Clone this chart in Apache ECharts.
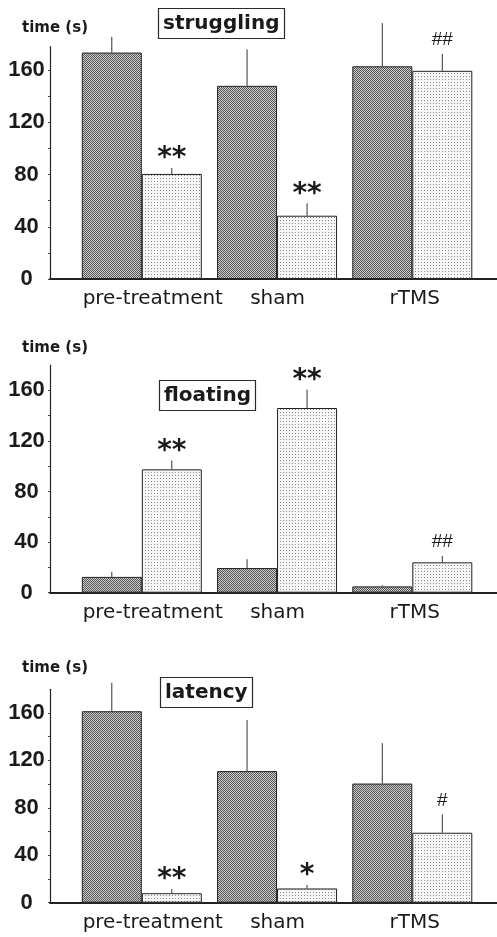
<!DOCTYPE html>
<html>
<head>
<meta charset="utf-8">
<script src="https://cdn.jsdelivr.net/npm/echarts@6/dist/echarts.min.js"></script>
<style>
html,body{margin:0;padding:0;background:#fff;}
#chart{width:497px;height:937px;}
</style>
</head>
<body>
<div id="chart"></div>
<script>
// ---------- data ----------
const categories = ['pre-treatment', 'sham', 'rTMS'];
const yTicks = [0, 40, 80, 120, 160];
const yMinorTicks = [0, 20, 40, 60, 80, 100, 120, 140, 160];
const panelTitles = ['struggling', 'floating', 'latency'];
const yAxisName = 'time (s)';

const strugglingBefore    = [173.5, 148, 163];
const strugglingBeforeErr = [12, 28, 33];
const strugglingAfter     = [80.5, 48.5, 159.5];
const strugglingAfterErr  = [4.5, 9.5, 13];
const strugglingMarks     = ['**', '**', '##'];

const floatingBefore    = [12.5, 19.5, 5];
const floatingBeforeErr = [4, 7, 1];
const floatingAfter     = [97.5, 146, 24];
const floatingAfterErr  = [7, 14.5, 5];
const floatingMarks     = ['**', '**', '##'];

const latencyBefore    = [161.5, 111, 100.5];
const latencyBeforeErr = [24, 43, 34];
const latencyAfter     = [8, 12, 59];
const latencyAfterErr  = [3.5, 3, 15.5];
const latencyMarks     = ['**', '*', '#'];

// ---------- layout / style ----------
const panelData = [
  {before: strugglingBefore, beforeErr: strugglingBeforeErr, after: strugglingAfter, afterErr: strugglingAfterErr, marks: strugglingMarks},
  {before: floatingBefore, beforeErr: floatingBeforeErr, after: floatingAfter, afterErr: floatingAfterErr, marks: floatingMarks},
  {before: latencyBefore, beforeErr: latencyBeforeErr, after: latencyAfter, afterErr: latencyAfterErr, marks: latencyMarks}
];
const panelLayout = [
  {top: 46.7, base: 279, yMax: 178, nameGap: 18.7, titleLeft: 158, titleTop: 8},
  {top: 365, base: 592.7, yMax: 180, nameGap: 17.3, titleLeft: 159, titleTop: 380},
  {top: 689.3, base: 902.7, yMax: 180, nameGap: 21, titleLeft: 160, titleTop: 677}
];
const H = 937;
const groupPx = 135.25;      // px per category step
const barWidthPx = 60;
const barHalf = (barWidthPx / 2) / groupPx;
const xMin = -(141.8 - 50) / groupPx;
const xMax = xMin + 447 / groupPx;
const textColor = '#1a1a1a';

function makePattern(size, bg, dots) {
  const c = document.createElement('canvas');
  c.width = size; c.height = size;
  const g = c.getContext('2d');
  g.fillStyle = bg; g.fillRect(0, 0, size, size);
  dots.forEach(d => { g.fillStyle = d[2]; g.fillRect(d[0], d[1], 1, 1); });
  return c;
}
const darkPattern = makePattern(2, '#cacaca', [[0, 0, '#585858'], [1, 1, '#585858']]);
const lightPattern = makePattern(3, '#f6f6f6', [[1, 1, '#8c8c8c']]);

const labelShift = [22, 1, 5];
const rich = {};
categories.forEach((c, i) => {
  rich['c' + i] = {fontFamily: 'DejaVu Sans', fontSize: 20, color: textColor, padding: [0, 0, 0, labelShift[i]]};
});

const option = {
  animation: false,
  backgroundColor: '#fff',
  title: panelTitles.map((t, p) => ({
    text: t,
    left: panelLayout[p].titleLeft,
    top: panelLayout[p].titleTop,
    padding: [4, 5, 4, 5],
    borderColor: '#2a2a2a',
    borderWidth: 1.2,
    backgroundColor: '#fff',
    textStyle: {fontFamily: 'DejaVu Sans', fontWeight: 'bold', fontSize: 20, lineHeight: 23, color: textColor}
  })),
  grid: panelLayout.map(l => ({
    left: 50, right: 0, top: l.top, bottom: H - l.base, containLabel: false, outerBoundsMode: 'none'
  })),
  xAxis: panelLayout.map((l, p) => ({
    type: 'value', gridIndex: p, min: xMin, max: xMax,
    axisLine: {show: true, onZero: false, lineStyle: {color: '#222', width: 2}},
    axisTick: {show: false},
    splitLine: {show: false},
    axisLabel: {
      customValues: [0, 1, 2],
      margin: 10,
      formatter: v => { const i = Math.round(v); return '{c' + i + '|' + categories[i] + '}'; },
      rich: rich
    }
  })),
  yAxis: panelLayout.map((l, p) => ({
    type: 'value', gridIndex: p, min: 0, max: l.yMax,
    name: yAxisName, nameLocation: 'end', nameGap: l.nameGap,
    nameTextStyle: {fontFamily: 'DejaVu Sans', fontWeight: 'bold', fontSize: 15, color: textColor,
      verticalAlign: 'middle', align: 'center', padding: [0, 0, 0, 10]},
    axisLine: {show: true, onZero: false, lineStyle: {color: '#222', width: 1.2}},
    axisTick: {show: true, customValues: yMinorTicks, length: 2, lineStyle: {color: '#444', width: 1}},
    splitLine: {show: false},
    axisLabel: {
      customValues: yTicks, margin: 23.5, align: 'center', verticalAlign: 'middle',
      padding: [5, 0, 0, 0],
      fontFamily: 'Liberation Sans', fontWeight: 'bold', fontSize: 22, color: textColor
    }
  })),
  series: []
};

function errorSeries(p, xs, means, errs) {
  return {
    type: 'custom', xAxisIndex: p, yAxisIndex: p, z: 5, clip: false,
    data: xs.map((x, i) => [x, means[i], errs[i]]),
    renderItem: (params, api) => {
      const x = api.value(0), m = api.value(1), e = api.value(2);
      const a = api.coord([x, m]), b = api.coord([x, m + e]);
      return {type: 'line', shape: {x1: a[0], y1: a[1], x2: b[0], y2: b[1]},
        style: {stroke: '#333', lineWidth: 1}};
    }
  };
}

panelData.forEach((d, p) => {
  const xsBefore = categories.map((c, i) => i - barHalf);
  const xsAfter = categories.map((c, i) => i + barHalf);
  option.series.push({
    type: 'bar', name: 'before', xAxisIndex: p, yAxisIndex: p, barWidth: barWidthPx, barGap: '-100%',
    data: xsBefore.map((x, i) => [x, d.before[i]]),
    itemStyle: {color: {image: darkPattern, repeat: 'repeat'}, borderColor: '#222', borderWidth: 1}
  });
  option.series.push({
    type: 'bar', name: 'after', xAxisIndex: p, yAxisIndex: p, barWidth: barWidthPx, barGap: '-100%',
    data: xsAfter.map((x, i) => [x, d.after[i]]),
    itemStyle: {color: {image: lightPattern, repeat: 'repeat'}, borderColor: '#222', borderWidth: 1}
  });
  option.series.push(errorSeries(p, xsBefore, d.before, d.beforeErr));
  option.series.push(errorSeries(p, xsAfter, d.after, d.afterErr));
  option.series.push({
    type: 'custom', xAxisIndex: p, yAxisIndex: p, z: 6, clip: false,
    data: xsAfter.map((x, i) => [x, d.after[i] + d.afterErr[i]]),
    renderItem: (params, api) => {
      const mark = d.marks[params.dataIndex];
      const pt = api.coord([api.value(0), api.value(1)]);
      const star = mark.indexOf('*') >= 0;
      return {
        type: 'text',
        style: {
          text: mark, x: pt[0], y: pt[1] - (star ? 9 : 14),
          align: 'center', verticalAlign: 'middle',
          font: star ? 'bold 28px "DejaVu Sans"' : '19px "Liberation Sans"',
          fill: textColor
        }
      };
    }
  });
});

const chart = echarts.init(document.getElementById('chart'), null, {renderer: 'canvas'});
chart.setOption(option);
</script>
</body>
</html>
